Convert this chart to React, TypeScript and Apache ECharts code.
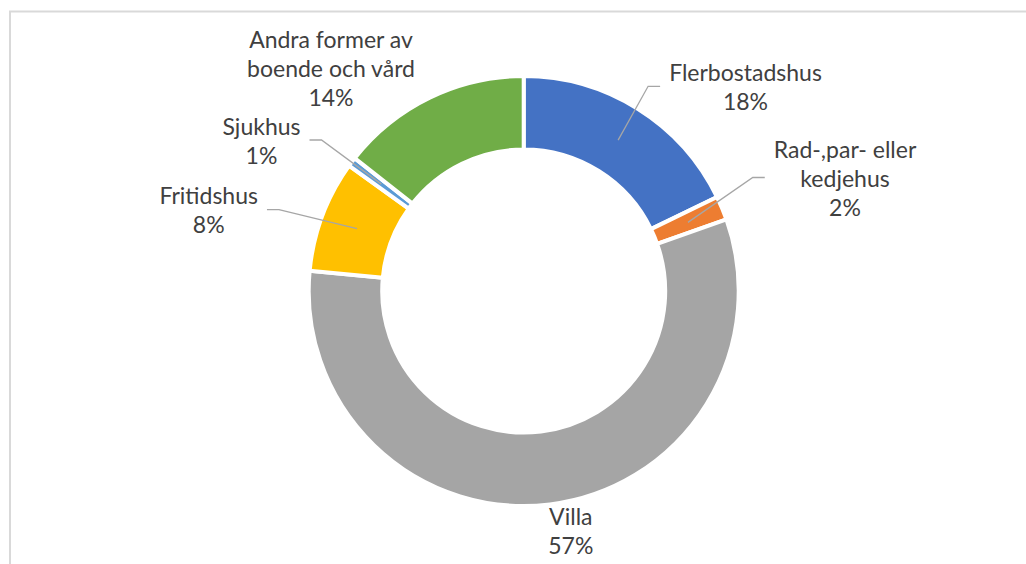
import React, { useEffect, useRef } from "react";
import * as echarts from "echarts";

// Data (share of total, %)
const categories = [
  "Flerbostadshus",
  "Rad-,par- eller kedjehus",
  "Villa",
  "Fritidshus",
  "Sjukhus",
  "Andra former av boende och vård",
];
const values = [17.8, 1.8, 56.9, 8.4, 0.7, 14.4];
const colors = ["#4472C4", "#ED7D31", "#A5A5A5", "#FFC000", "#5B9BD5", "#70AD47"];

// Layout (px)
const CX = 523.7;
const CY = 291;
const R_IN = 141.5;
const R_OUT = 215;
const R_LINE = 178;
const labelPos: [number, number][] = [
  [745.5, 86.3],
  [845, 177.5],
  [570.8, 530],
  [208.7, 209.7],
  [261.5, 140],
  [331, 68],
];
const showLine = [true, true, false, true, true, false];

function wrap(text: string, max: number): string {
  const words = text.split(" ");
  const lines: string[] = [];
  let cur = "";
  for (const w of words) {
    if (cur && (cur + " " + w).length > max) {
      lines.push(cur);
      cur = w;
    } else {
      cur = cur ? cur + " " + w : w;
    }
  }
  if (cur) lines.push(cur);
  return lines.join("\n");
}

export default function App() {
  const ref = useRef<HTMLDivElement>(null);
  useEffect(() => {
    document.body.style.margin = "0";
    if (!ref.current) return;
    const chart = echarts.init(ref.current, undefined, { renderer: "svg" });
    const ringData = categories.map((name, i) => ({
      name,
      value: values[i],
      itemStyle: { color: colors[i] },
    }));
    const labelData = categories.map((name, i) => ({
      name,
      value: values[i],
      labelLine: { show: showLine[i] },
    }));
    chart.setOption({
      animation: false,
      backgroundColor: "#ffffff",
      graphic: [
        {
          type: "rect",
          silent: true,
          shape: { x: 10, y: 11.5, width: 1200, height: 800 },
          style: { fill: "none", stroke: "#d9d9d9", lineWidth: 2 },
        },
      ],
      series: [
        {
          type: "pie",
          z: 2,
          center: [CX, CY],
          radius: [R_IN, R_OUT],
          startAngle: 90,
          clockwise: true,
          itemStyle: { borderColor: "#ffffff", borderWidth: 4 },
          emphasis: { disabled: true },
          label: { show: false },
          labelLine: { show: false },
          data: ringData,
        },
        {
          type: "pie",
          z: 3,
          silent: true,
          center: [CX, CY],
          radius: [0, R_LINE],
          startAngle: 90,
          clockwise: true,
          avoidLabelOverlap: false,
          itemStyle: { color: "rgba(0,0,0,0)", borderWidth: 0 },
          emphasis: { disabled: true },
          label: {
            show: true,
            position: "outside",
            color: "#404040",
            fontFamily: "Lato",
            fontSize: 23,
            lineHeight: 29,
            align: "center",
            formatter: (p: any) => `${wrap(p.name, 16)}\n${Math.round(p.percent)}%`,
          },
          labelLine: {
            show: true,
            length: 10,
            length2: 10,
            lineStyle: { color: "#a6a6a6", width: 1.3 },
          },
          labelLayout: (params: any) => {
            const i = params.dataIndex;
            const [lx, ly] = labelPos[i];
            const w = params.labelRect.width;
            const res: any = { x: lx, y: ly, align: "center", verticalAlign: "middle" };
            const pts = params.labelLinePoints;
            if (pts && showLine[i]) {
              const ang = Math.atan2(pts[0][1] - CY, pts[0][0] - CX);
              const start = [CX + R_LINE * Math.cos(ang), CY + R_LINE * Math.sin(ang)];
              const right = lx > CX;
              const ex = right ? lx - w / 2 - 9 : lx + w / 2 + 9;
              const bx = right ? ex - 12 : ex + 12;
              res.labelLinePoints = [start, [bx, ly], [ex, ly]];
            }
            return res;
          },
          data: labelData,
        },
      ],
    });
    return () => chart.dispose();
  }, []);
  return <div ref={ref} style={{ width: 1026, height: 564 }} />;
}
